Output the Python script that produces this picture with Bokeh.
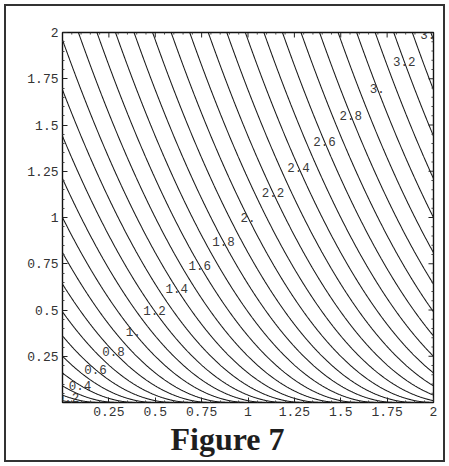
import numpy as np
from bokeh.plotting import figure
from bokeh.models import Range1d, FixedTicker, Title, ColumnDataSource
from bokeh.core.properties import value
from bokeh.embed import file_html
from bokeh.resources import INLINE

# Contour levels of f(x, y) = x + sqrt(y) on [0, 2] x [0, 2]
levels = [0.1, 0.2, 0.3, 0.4, 0.5, 0.6, 0.7, 0.8, 0.9, 1.0,
          1.1, 1.2, 1.3, 1.4, 1.5, 1.6, 1.7, 1.8, 1.9, 2.0,
          2.1, 2.2, 2.3, 2.4, 2.5, 2.6, 2.7, 2.8, 2.9, 3.0,
          3.1, 3.2, 3.3, 3.4]

# Levels that carry a text label, and their printed form
label_levels = [0.2, 0.4, 0.6, 0.8, 1.0, 1.2, 1.4, 1.6, 1.8,
                2.0, 2.2, 2.4, 2.6, 2.8, 3.0, 3.2, 3.4]
label_texts = ["0.2", "0.4", "0.6", "0.8", "1.", "1.2", "1.4", "1.6", "1.8",
               "2.", "2.2", "2.4", "2.6", "2.8", "3.", "3.2", "3.4"]

# Frame ticks
tick_values = [0.25, 0.5, 0.75, 1.0, 1.25, 1.5, 1.75, 2.0]
tick_labels = ["0.25", "0.5", "0.75", "1", "1.25", "1.5", "1.75", "2"]
minor_values = [0.05, 0.1, 0.15, 0.2, 0.3, 0.35, 0.4, 0.45, 0.55, 0.6, 0.65, 0.7,
                0.8, 0.85, 0.9, 0.95, 1.05, 1.1, 1.15, 1.2, 1.3, 1.35, 1.4, 1.45,
                1.55, 1.6, 1.65, 1.7, 1.8, 1.85, 1.9, 1.95]


def field(x, y):
    return x + np.sqrt(y)


# Sample grid, denser near y = 0 where sqrt(y) is steep
gx = np.linspace(0.0, 2.0, 401)
gy = 2.0 * np.linspace(0.0, 1.0, 501) ** 2
GX, GY = np.meshgrid(gx, gy)
GZ = field(GX, GY)

# Labels sit on the diagonal x = y, where t + sqrt(t) = c
lab_s = (np.sqrt(1.0 + 4.0 * np.array(label_levels)) - 1.0) / 2.0
lab_t = lab_s ** 2
labels_src = ColumnDataSource(dict(x=lab_t, y=lab_t, text=label_texts))

p = figure(width=449, height=466,
           x_range=Range1d(0, 2), y_range=Range1d(0, 2),
           output_backend="svg", toolbar_location=None,
           min_border_left=62, min_border_right=16,
           min_border_top=32, min_border_bottom=64)
p.background_fill_color = "white"
p.border_fill_alpha = 0
p.xgrid.visible = False
p.ygrid.visible = False
p.outline_line_color = "#111111"
p.outline_line_width = 1.4
# page border: white margin, then a dark rule, painted by the host element
p.styles = {"background-color": "white",
            "box-shadow": "inset 0 0 0 4px white, inset 0 0 0 6px #333333"}

p.contour(gx, gy, GZ, levels, line_color="#1a1a1a", line_width=1.05)

p.text(x="x", y="y", text="text", source=labels_src,
       text_font=value("Liberation Mono"), text_font_size=value("12.5px"),
       text_color="#3a3a3a", text_align="center", text_baseline="middle")

ticker = FixedTicker(ticks=tick_values, minor_ticks=minor_values)
overrides = dict(zip(tick_values, tick_labels))

for ax in (p.xaxis[0], p.yaxis[0]):
    ax.ticker = ticker
    ax.axis_line_color = None
    ax.major_tick_in = 5
    ax.major_tick_out = 0
    ax.minor_tick_in = 2
    ax.minor_tick_out = 0
    ax.major_tick_line_color = "#222222"
    ax.minor_tick_line_color = "#444444"
    ax.major_label_overrides = overrides
    ax.major_label_text_font = "Liberation Mono"
    ax.major_label_text_font_size = "13px"
    ax.major_label_text_color = "#333333"
    ax.major_label_standoff = 4

# Inward ticks on the top and right sides of the frame
major_len = 0.027
minor_len = 0.011
p.segment(x0=tick_values, y0=[2.0] * len(tick_values),
          x1=tick_values, y1=[2.0 - major_len] * len(tick_values),
          line_color="#222222", line_width=1)
p.segment(x0=[2.0] * len(tick_values), y0=tick_values,
          x1=[2.0 - major_len] * len(tick_values), y1=tick_values,
          line_color="#222222", line_width=1)
p.segment(x0=minor_values, y0=[2.0] * len(minor_values),
          x1=minor_values, y1=[2.0 - minor_len] * len(minor_values),
          line_color="#444444", line_width=1)
p.segment(x0=[2.0] * len(minor_values), y0=minor_values,
          x1=[2.0 - minor_len] * len(minor_values), y1=minor_values,
          line_color="#444444", line_width=1)

p.add_layout(Title(text="Figure 7", align="left", offset=108, standoff=0,
                   text_font="Liberation Serif", text_font_style="bold",
                   text_font_size="32px", text_color="#1e1e1e"), "below")

open("out.html", "w").write(file_html(p, INLINE))
